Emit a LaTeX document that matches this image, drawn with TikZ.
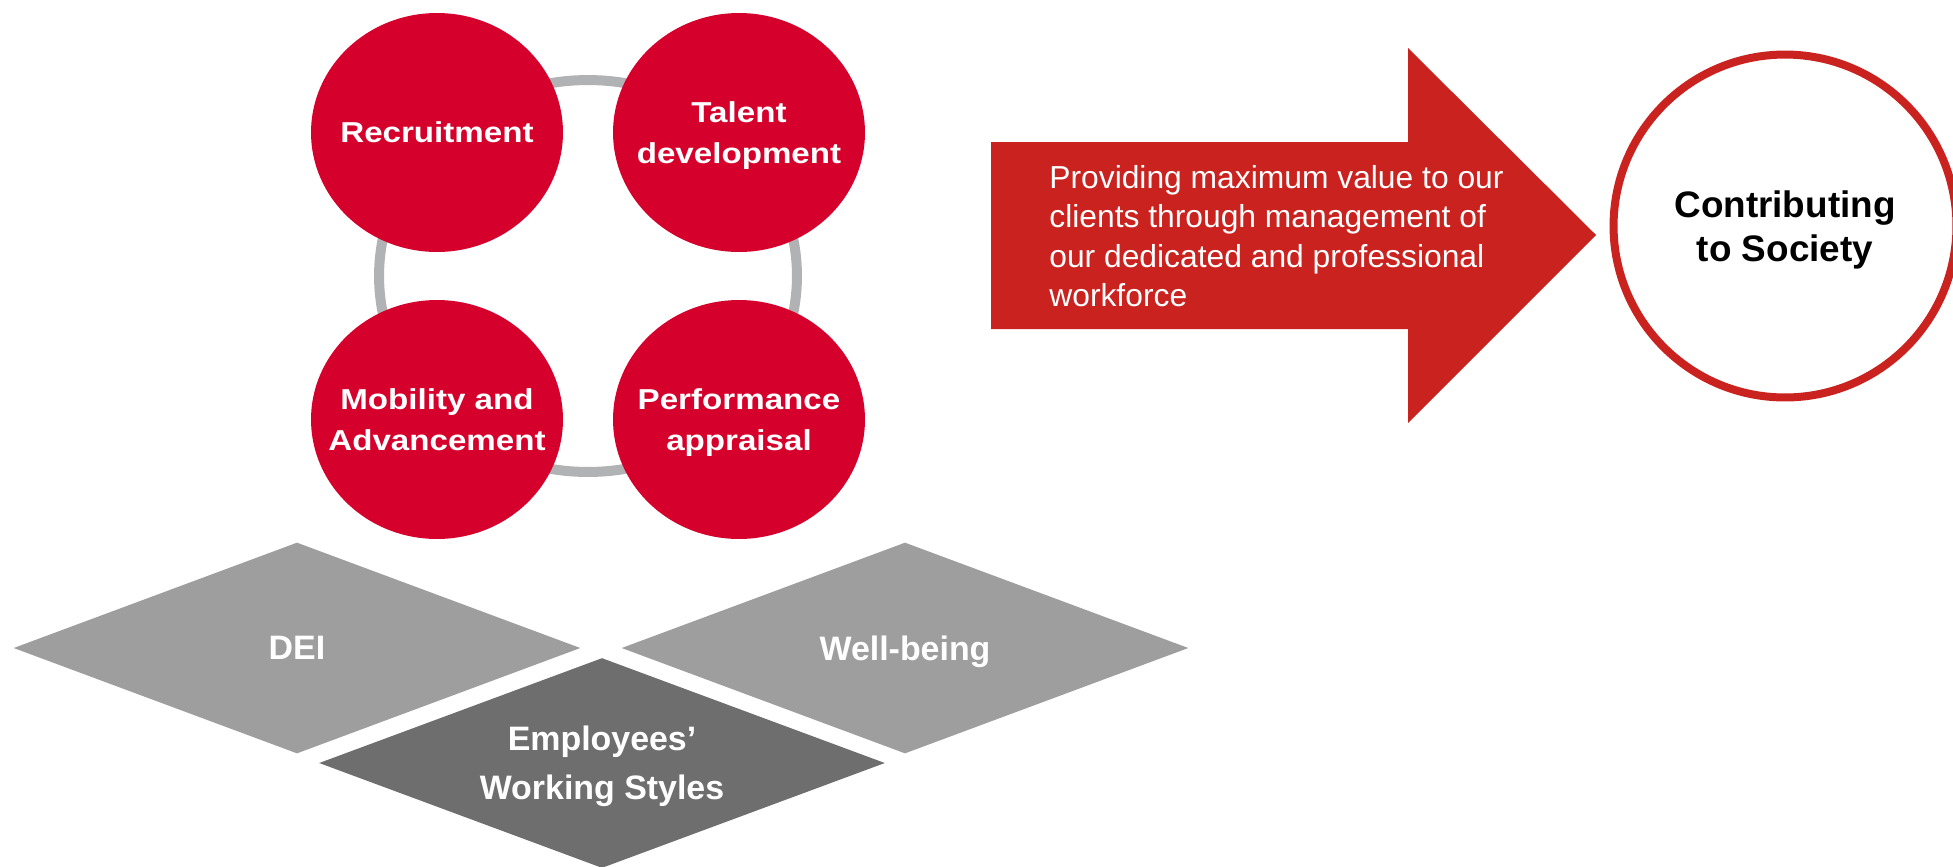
\documentclass[tikz,border=0pt]{standalone}
\usepackage{fontspec}
\setmainfont{Liberation Sans}
\newfontfamily\widesans[FakeStretch=1.15]{Liberation Sans}
\usepackage{tikz}
\usetikzlibrary{positioning, shapes.geometric}
\definecolor{hrred}{HTML}{D5002B}
\definecolor{arrowred}{HTML}{C9221F}
\definecolor{ringgray}{HTML}{B1B2B4}
\definecolor{tilegray}{HTML}{9E9E9E}
\definecolor{tiledark}{HTML}{6E6E6E}

\begin{document}
\begin{tikzpicture}[x=0.02cm, y=-0.02cm,
    bubble/.style={ellipse, fill=hrred, text=white, minimum width=5.04cm, minimum height=4.78cm,
                   inner sep=-1.2cm, align=center, text depth=0pt,
                   font=\widesans\bfseries\fontsize{16.4}{23.8}\selectfont},
    tile/.style={diamond, fill=#1, aspect=2.69, inner sep=0pt,
                 minimum width=11.34cm, minimum height=4.22cm, text depth=0pt,
                 text=white, align=center, font=\bfseries\fontsize{19.3}{27.8}\selectfont},
]
    \useasboundingbox (0,0) rectangle (1953,866);

    % HR cycle
    \node[ellipse, draw=ringgray, line width=0.2cm, minimum width=8.36cm, minimum height=7.84cm] (ring) at (588,276) {};
    \node[bubble] (recruit) at (437,132.5) {Recruitment};
    \node[bubble] (talent) at (739,132.5) {Talent\\development};
    \node[bubble] (mobility) at (437,419.5) {Mobility and\\Advancement};
    \node[bubble] (appraisal) at (739,419.5) {Performance\\appraisal};

    % foundation tiles
    \node[tile=tilegray] (dei) at (297,648) {DEI};
    \node[tile=tilegray] (wellbeing) at (905,648) {Well-being};
    \node[tile=tiledark, minimum width=11.32cm, minimum height=4.2cm] (styles) at (602,763)
        {Employees’\\Working Styles};

    % value arrow
    \fill[arrowred] (991,142) -- (1408,142) -- (1408,48) -- (1596,235)
        -- (1408,423) -- (1408,329) -- (991,329) -- cycle;
    \node[anchor=north west, inner sep=0pt, align=left, text=white,
          font=\fontsize{18.1}{22.4}\selectfont] (mission) at (1049,165)
        {Providing maximum value to our\\clients through management of\\our dedicated and professional\\workforce};

    % goal
    \node[circle, draw=arrowred, line width=0.16cm, minimum size=6.86cm, align=center, text depth=0pt,
          font=\bfseries\fontsize{21}{25}\selectfont] (society) at (1785,226)
        {Contributing\\to Society};
\end{tikzpicture}
\end{document}
